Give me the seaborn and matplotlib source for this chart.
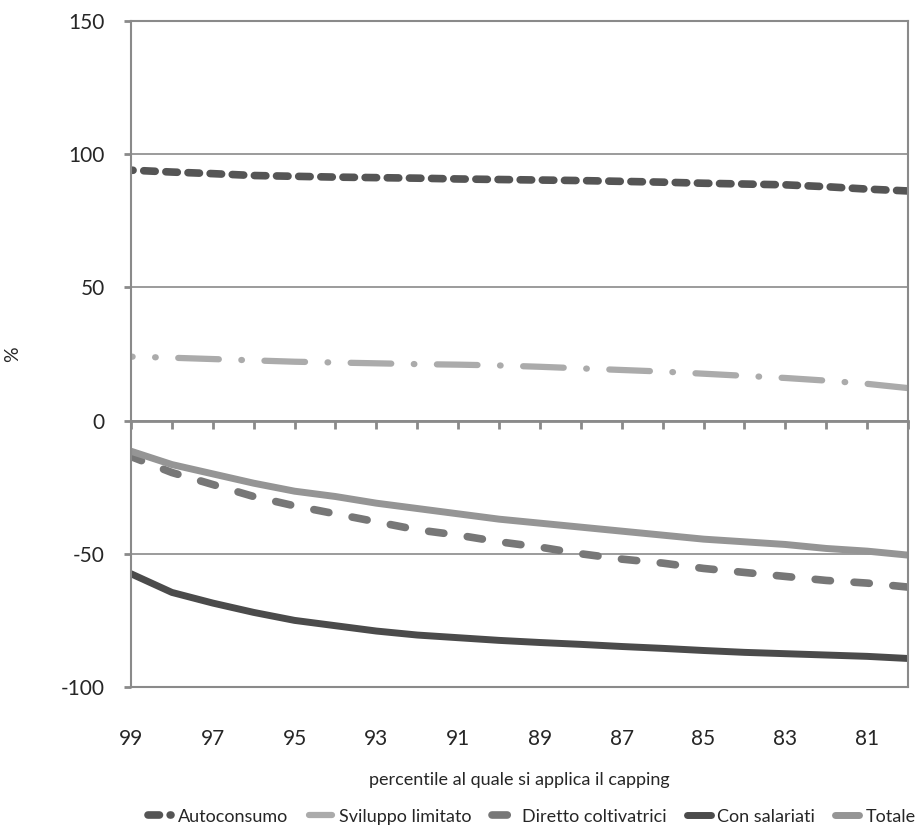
import pandas as pd
import numpy as np
import matplotlib
matplotlib.use('Agg')
import matplotlib.pyplot as plt
import seaborn as sns

# percentile al quale si applica il capping (99 -> 80)
percentili = list(range(99, 79, -1))

autoconsumo = [94, 93.3, 92.7, 92, 91.7, 91.4, 91.2, 91, 90.7, 90.5,
               90.3, 90.1, 89.8, 89.5, 89.1, 88.8, 88.5, 87.8, 86.9, 86.2]
sviluppo_limitato = [24, 23.6, 23.1, 22.6, 22.1, 21.8, 21.5, 21.2, 21, 20.7,
                     20.2, 19.6, 19, 18.4, 17.6, 16.8, 16, 15, 13.8, 12.2]
diretto_coltivatrici = [-13.5, -19.5, -24, -28.5, -32, -35, -38, -41, -43, -45.5,
                        -47.5, -50, -52, -53.5, -55.5, -57, -58.5, -60, -61, -62.5]
con_salariati = [-57.5, -64.5, -68.5, -72, -75, -77, -79, -80.5, -81.5, -82.5,
                 -83.3, -84, -84.8, -85.5, -86.3, -87, -87.5, -88, -88.5, -89.3]
totale = [-11.5, -16.5, -20, -23.5, -26.5, -28.5, -31, -33, -35, -37,
          -38.5, -40, -41.5, -43, -44.5, -45.5, -46.5, -48, -49, -50.5]

serie = ['Autoconsumo', 'Sviluppo limitato', 'Diretto coltivatrici', 'Con salariati', 'Totale']
valori = [autoconsumo, sviluppo_limitato, diretto_coltivatrici, con_salariati, totale]

# stile di ogni serie: colore, spessore, tratteggio
colori = ['#555555', '#ababab', '#777777', '#4b4b4b', '#959595']
spessori = [5.5, 4.5, 5.5, 5.0, 5.0]
tratti = [(0, (1.5, 1.4)), (0, (6.5, 3.6, 0.1, 3.6)), (0, (2.0, 3.1)), '-', '-']

sns.set_style('white')
plt.rcParams['font.family'] = ['Lato', 'DejaVu Sans']
plt.rcParams['axes.unicode_minus'] = False

fig = plt.figure(figsize=(9.2, 8.3), dpi=100)
ax = fig.add_axes([0.1424, 0.1723, 0.8446, 0.8024])

for nome, v, c, lw, ls in zip(serie, valori, colori, spessori, tratti):
    df = pd.DataFrame({'percentile': percentili, 'valore': v})
    sns.lineplot(data=df, x='percentile', y='valore', ax=ax, color=c, lw=lw,
                 linestyle=ls, dash_capstyle='round', solid_capstyle='round',
                 label=nome)

grigio = '#8a8a8a'
ax.set_xlim(99, 80)
ax.set_ylim(-100, 150)
ax.set_yticks([-100, -50, 0, 50, 100, 150])
ax.set_xticks(percentili[::2])
ax.tick_params(axis='x', length=0, pad=30, labelsize=15)
ax.tick_params(axis='y', length=5, width=2, color=grigio, direction='out',
               left=True, pad=14, labelsize=15)
ax.grid(axis='y', color=grigio, lw=1.2)
ax.grid(axis='x', visible=False)
for s in ax.spines.values():
    s.set_color(grigio)
    s.set_linewidth(1.5)

# asse dello zero con le tacche per ogni percentile
zero = ax.secondary_xaxis(0.4)
zero.set_xticks(percentili)
zero.tick_params(axis='x', direction='out', length=6, width=2, color=grigio,
                 labelbottom=False)
zero.spines['bottom'].set_color(grigio)
zero.spines['bottom'].set_linewidth(2)

ax.set_xlabel('percentile al quale si applica il capping', fontsize=13)
ax.xaxis.set_label_coords(0.5, -0.128)
ax.set_ylabel('%', fontsize=14)
ax.yaxis.set_label_coords(-0.142, 0.5)

ax.legend(loc='center right', bbox_to_anchor=(0.995, 0.016), bbox_transform=fig.transFigure,
          ncol=5, frameon=False, fontsize=13, handlelength=1.3, handletextpad=0.35,
          columnspacing=1.15, borderpad=0, borderaxespad=0)

fig.savefig('out.png', dpi=100)
